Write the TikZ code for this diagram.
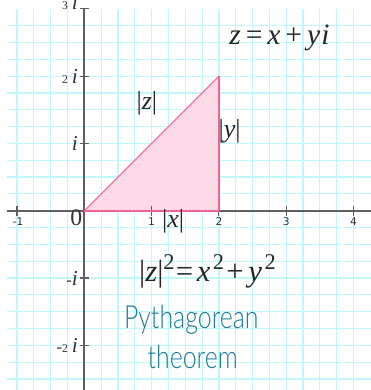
\documentclass[tikz,border=0pt]{standalone}
\usepackage{fontspec}
\usepackage{graphicx}
\setmainfont{Liberation Serif}
\newfontfamily\tickfont{DejaVu Sans}
\newfontfamily\decofont{Lato Light}
\definecolor{gridc}{RGB}{192,248,250}
\definecolor{axisc}{RGB}{95,95,95}
\definecolor{pinkfill}{RGB}{252,217,230}
\definecolor{pinkedge}{RGB}{238,98,150}
\definecolor{tealc}{RGB}{32,124,148}
\tikzset{
  gridline/.style={draw=gridc, line width=0.5pt},
  axisline/.style={draw=axisc, line width=0.7pt},
  tickmark/.style={draw=axisc, line width=0.45pt},
  ticklab/.style={inner sep=0pt, font=\tickfont\fontsize{4.5}{5}\selectfont, text=black!80},
  ylab/.style={inner sep=0pt, anchor=east, text=black!80},
  sidelab/.style={inner sep=0pt, font=\fontsize{11}{12}\selectfont, text=black!85},
  eqlab/.style={inner sep=0pt, font=\fontsize{12.5}{14}\selectfont, text=black!85},
  decolab/.style={inner sep=0pt, text=tealc, font=\decofont\fontsize{13.5}{15}\selectfont}
}
\newcommand{\supr}[1]{\raisebox{0.85ex}{\fontsize{9.5}{10}\selectfont #1}}
\newcommand{\smallnum}[1]{{\fontsize{5}{6}\selectfont #1}}
\newcommand{\imag}{{\fontsize{9}{10}\selectfont\textit{i}}}
\begin{document}
\begin{tikzpicture}
\useasboundingbox (-1.253,-2.664) rectangle (4.245,3.131);
\fill[white] (-1.253,-2.664) rectangle (4.245,3.131);
% grid
\foreach \gx in {-1,-0.75,...,4.1}
  \draw[gridline] (\gx,-2.7) -- (\gx,3.0);
\foreach \gy in {-2.5,-2.25,...,2.8}
  \draw[gridline] (-1.15,\gy) -- (4.3,\gy);
% triangle
\coordinate (O) at (0,0);
\coordinate (A) at (2,0);
\coordinate (B) at (2,2);
\fill[pinkfill] (O) -- (A) -- (B) -- cycle;
% axes
\coordinate (xl) at (-1.15,0);
\coordinate (xr) at (4.3,0);
\coordinate (yt) at (0,3.0);
\coordinate (yb) at (0,-2.7);
\draw[axisline] (xl) -- (xr);
\draw[axisline] (yb) -- (yt);
% ticks
\foreach \tx in {-1,1,2,3,4}
  \draw[tickmark] (\tx,-0.075) -- (\tx,0.075);
\foreach \ty in {-2,-1,1,2,3}
  \draw[tickmark] (-0.07,\ty) -- (0.07,\ty);
% triangle edges
\draw[pinkedge, line width=0.45pt] (O) -- (B);
\draw[pinkedge, line width=0.8pt] (O) -- (A);
\draw[pinkedge, line width=0.9pt] (A) -- (B);
% tick labels
\node[ticklab] (tm1) at (-0.985,-0.165) {-1};
\node[ticklab] (t1) at (1,-0.165) {1};
\node[ticklab] (t2) at (2,-0.165) {2};
\node[ticklab] (t3) at (3,-0.165) {3};
\node[ticklab] (t4) at (4,-0.165) {4};
\node[inner sep=0pt, font=\fontsize{10}{11}\selectfont, text=black!80] (zero) at (-0.118,-0.11) {0};
\node[ylab] (y3) at (-0.09,3.1) {\smallnum{3}\,\imag};
\node[ylab] (y2) at (-0.09,2.0) {\smallnum{2}\,\imag};
\node[ylab] (y1) at (-0.09,1.0) {\imag};
\node[ylab] (ym1) at (-0.09,-1.0) {{\fontsize{7}{8}\selectfont -}\imag};
\node[ylab] (ym2) at (-0.09,-2.0) {{\fontsize{7}{8}\selectfont -}\smallnum{2}\,\imag};
% side labels
\node[sidelab] (lz) at (0.93,1.60) {|\textit{z}|};
\node[sidelab] (ly) at (2.16,1.18) {|\textit{y}|};
\node[sidelab] (lx) at (1.32,-0.16) {|\textit{x}|};
% equations
\node[eqlab] (zeq) at (2.90,2.57) {\textit{z}\,=\,\textit{x}\,+\,\textit{y}\kern0.5pt\textit{i}};
\node[eqlab, font=\fontsize{13}{14}\selectfont] (pyth) at (1.83,-0.90) {|\textit{z}|\supr{2}\kern0.5pt=\kern1.5pt\textit{x}\kern1pt\supr{2}\kern1pt+\kern2pt\textit{y}\kern1pt\supr{2}};
% title
\node[decolab] (t1w) at (1.59,-1.62) {\scalebox{0.78}[1]{Pythagorean}};
\node[decolab] (t2w) at (1.61,-2.18) {\scalebox{0.78}[1]{theorem}};
\end{tikzpicture}
\end{document}
